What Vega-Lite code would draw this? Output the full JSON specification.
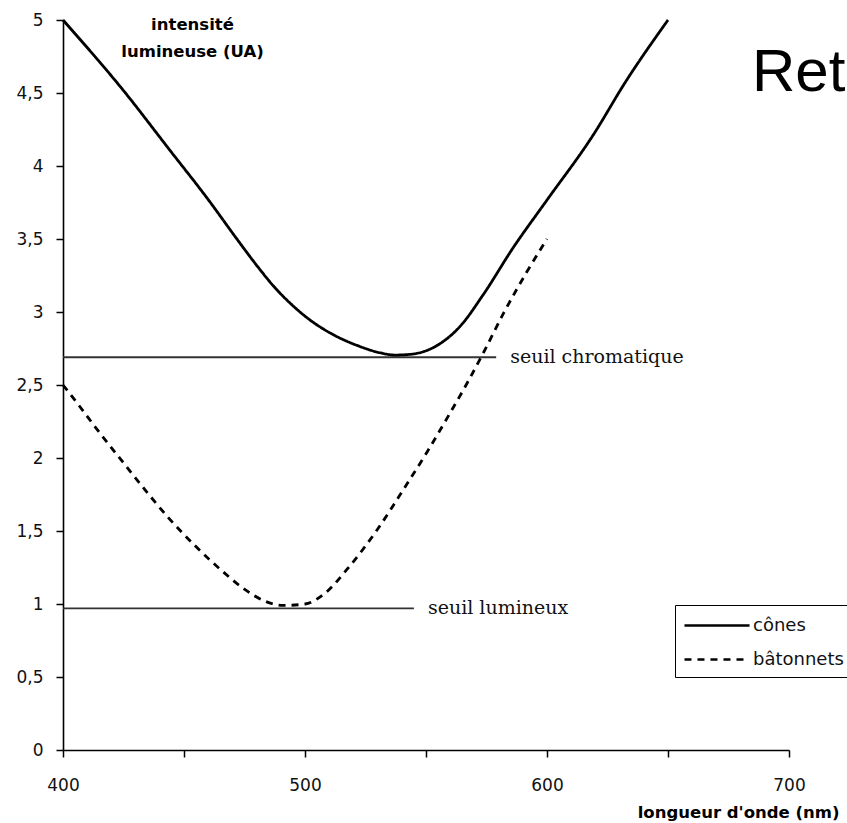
{
  "$schema": "https://vega.github.io/schema/vega-lite/v6.json",
  "width": 726,
  "height": 730,
  "autosize": {"type": "none"},
  "padding": {"left": 63, "top": 20, "right": 58, "bottom": 73},
  "background": "white",
  "config": {"view": {"stroke": null}},
  "datasets": {
    "curves": [
      {"serie": "cônes", "nm": 400, "val": 5.0},
      {"serie": "cônes", "nm": 425.8, "val": 4.5},
      {"serie": "cônes", "nm": 443.6, "val": 4.12},
      {"serie": "cônes", "nm": 460, "val": 3.77},
      {"serie": "cônes", "nm": 472.3, "val": 3.49},
      {"serie": "cônes", "nm": 480, "val": 3.32},
      {"serie": "cônes", "nm": 487.4, "val": 3.17},
      {"serie": "cônes", "nm": 495.2, "val": 3.04},
      {"serie": "cônes", "nm": 502.5, "val": 2.94},
      {"serie": "cônes", "nm": 510, "val": 2.86},
      {"serie": "cônes", "nm": 521.7, "val": 2.77},
      {"serie": "cônes", "nm": 531.2, "val": 2.72},
      {"serie": "cônes", "nm": 537, "val": 2.705},
      {"serie": "cônes", "nm": 543.5, "val": 2.71},
      {"serie": "cônes", "nm": 554.5, "val": 2.77},
      {"serie": "cônes", "nm": 564, "val": 2.9},
      {"serie": "cônes", "nm": 573.7, "val": 3.12},
      {"serie": "cônes", "nm": 586, "val": 3.44},
      {"serie": "cônes", "nm": 599.7, "val": 3.76},
      {"serie": "cônes", "nm": 619, "val": 4.21},
      {"serie": "cônes", "nm": 632.6, "val": 4.58},
      {"serie": "cônes", "nm": 650, "val": 5.0},
      {"serie": "bâtonnets", "nm": 400, "val": 2.5},
      {"serie": "bâtonnets", "nm": 406.6, "val": 2.36},
      {"serie": "bâtonnets", "nm": 414.8, "val": 2.18},
      {"serie": "bâtonnets", "nm": 425.8, "val": 1.95},
      {"serie": "bâtonnets", "nm": 434, "val": 1.78},
      {"serie": "bâtonnets", "nm": 443.6, "val": 1.59},
      {"serie": "bâtonnets", "nm": 454.5, "val": 1.4},
      {"serie": "bâtonnets", "nm": 465.5, "val": 1.23},
      {"serie": "bâtonnets", "nm": 475.1, "val": 1.1},
      {"serie": "bâtonnets", "nm": 483.3, "val": 1.02},
      {"serie": "bâtonnets", "nm": 491, "val": 0.99},
      {"serie": "bâtonnets", "nm": 500, "val": 1.0},
      {"serie": "bâtonnets", "nm": 508, "val": 1.07},
      {"serie": "bâtonnets", "nm": 517.5, "val": 1.24},
      {"serie": "bâtonnets", "nm": 529.9, "val": 1.51},
      {"serie": "bâtonnets", "nm": 540.9, "val": 1.79},
      {"serie": "bâtonnets", "nm": 550.4, "val": 2.04},
      {"serie": "bâtonnets", "nm": 558.6, "val": 2.27},
      {"serie": "bâtonnets", "nm": 566.9, "val": 2.51},
      {"serie": "bâtonnets", "nm": 573.7, "val": 2.72},
      {"serie": "bâtonnets", "nm": 582, "val": 2.99},
      {"serie": "bâtonnets", "nm": 591.5, "val": 3.27},
      {"serie": "bâtonnets", "nm": 600, "val": 3.5}
    ],
    "seuils": [
      {"nom": "seuil chromatique", "debut": 400, "fin": 579, "val": 2.69},
      {"nom": "seuil lumineux", "debut": 400, "fin": 545, "val": 0.97}
    ],
    "titre": [
      {"texte": "Ret", "nm": 684.7, "val": 4.514}
    ]
  },
  "layer": [
    {
      "data": {"name": "seuils"},
      "mark": {"type": "rule", "stroke": "#333333", "strokeWidth": 1.8},
      "encoding": {
        "x": {"field": "debut", "type": "quantitative", "scale": {"domain": [400, 700], "nice": false, "zero": false}},
        "x2": {"field": "fin"},
        "y": {"field": "val", "type": "quantitative"}
      }
    },
    {
      "data": {"name": "seuils"},
      "mark": {"type": "text", "font": "DejaVu Serif", "fontSize": 19, "align": "left", "baseline": "middle", "dx": 14, "dy": 0, "color": "#111111"},
      "encoding": {
        "x": {"field": "fin", "type": "quantitative"},
        "y": {"field": "val", "type": "quantitative"},
        "text": {"field": "nom"}
      }
    },
    {
      "data": {"name": "curves"},
      "mark": {"type": "line", "color": "black", "strokeWidth": 2.8, "interpolate": "monotone"},
      "encoding": {
        "x": {
          "field": "nm", "type": "quantitative",
          "scale": {"domain": [400, 700], "nice": false, "zero": false},
          "axis": {
            "values": [400, 450, 500, 550, 600, 650, 700],
            "labelExpr": "datum.value % 100 === 0 ? datum.label : ''",
            "format": "d",
            "grid": false,
            "domainColor": "black", "domainWidth": 1.6,
            "tickColor": "black", "tickWidth": 1.5, "tickSize": 7,
            "labelFont": "DejaVu Sans", "labelFontSize": 17, "labelColor": "#111111",
            "labelPadding": 20, "labelFlush": false,
            "title": "longueur d'onde (nm)",
            "titleFont": "DejaVu Sans", "titleFontSize": 16.5, "titleFontWeight": "bold", "titleColor": "black",
            "titleAlign": "right", "titleAnchor": null, "titleBaseline": "alphabetic",
            "titleX": 776, "titleY": 67,
            "encode": {
              "ticks": {"update": {"y": {"value": -6}}},
              "labels": {"update": {"dy": {"signal": "datum.value === 600 ? 5 : 0"}, "dx": {"signal": "datum.value === 500 ? -3 : 0"}}}
            }
          }
        },
        "y": {
          "field": "val", "type": "quantitative",
          "scale": {"domain": [0, 5], "nice": false},
          "axis": {
            "values": [0, 0.5, 1, 1.5, 2, 2.5, 3, 3.5, 4, 4.5, 5],
            "format": ".1~f",
            "labelExpr": "replace(datum.label, '.', ',')",
            "grid": false,
            "domainColor": "black", "domainWidth": 1.6,
            "tickColor": "black", "tickWidth": 1.5, "tickSize": 7,
            "labelFont": "DejaVu Sans", "labelFontSize": 17, "labelColor": "#111111",
            "labelPadding": 13,
            "title": ["intensité", "lumineuse (UA)"],
            "titleFont": "DejaVu Sans", "titleFontSize": 16.5, "titleFontWeight": "bold", "titleColor": "black",
            "titleAngle": 0, "titleAlign": "center", "titleBaseline": "alphabetic", "titleAnchor": null,
            "titleX": 129, "titleY": 9, "titleLineHeight": 27,
            "encode": {
              "ticks": {"update": {"x": {"value": 4}}}
            }
          }
        },
        "strokeDash": {
          "field": "serie", "type": "nominal",
          "scale": {"domain": ["cônes", "bâtonnets"], "range": [[1, 0], [7, 6]]},
          "legend": {
            "orient": "none", "legendX": 612, "legendY": 585,
            "title": null,
            "symbolType": "M-3,0H3", "symbolSize": 470, "symbolStrokeWidth": 2.5, "symbolStrokeColor": "black",
            "symbolOffset": 21.5,
            "labelFont": "DejaVu Sans", "labelFontSize": 18, "labelColor": "#111111", "labelOffset": 23.5,
            "padding": 8, "strokeColor": "black", "fillColor": "white", "rowPadding": 12
          }
        }
      }
    },
    {
      "data": {"name": "titre"},
      "mark": {"type": "text", "font": "Liberation Sans", "fontSize": 60, "align": "left", "baseline": "alphabetic", "color": "black"},
      "encoding": {
        "x": {"field": "nm", "type": "quantitative"},
        "y": {"field": "val", "type": "quantitative"},
        "text": {"field": "texte"}
      }
    }
  ]
}
